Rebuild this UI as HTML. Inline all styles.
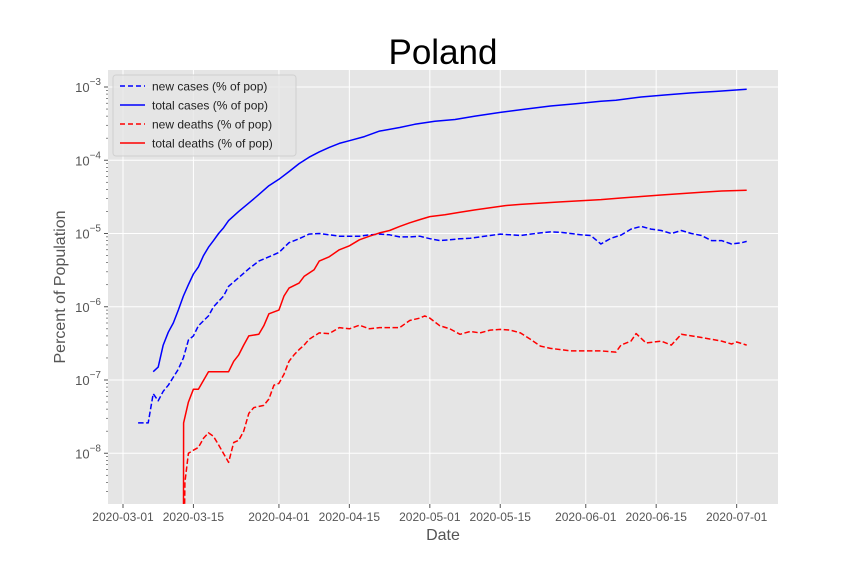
<!DOCTYPE html>
<html><head><meta charset="utf-8"><style>
html,body{margin:0;padding:0;background:#fff;}
svg{display:block;font-family:"Liberation Sans","DejaVu Sans",sans-serif;}
</style></head><body>
<svg id="chart" width="864" height="576" viewBox="0 0 864 576">
<text x="443" y="64" font-size="35" text-anchor="middle" fill="#000">Poland</text>
<rect x="108" y="70" width="670" height="434" fill="#e5e5e5"/>
<g id="grid"></g>
<g id="axes"></g>
<defs><clipPath id="clip"><rect x="108" y="70" width="670" height="434"/></clipPath></defs>
<g id="series" clip-path="url(#clip)"></g>
<text x="443" y="540" font-size="16" text-anchor="middle" fill="#555">Date</text>
<text transform="translate(65,287) rotate(-90)" font-size="16" text-anchor="middle" fill="#555">Percent of Population</text>
<g>
<rect x="113" y="75" width="183" height="81" rx="3" fill="#e5e5e5" stroke="#d0d0d0" fill-opacity="0.8"/>
<g><line x1="120" y1="86" x2="145" y2="86" stroke="#0000ff" stroke-width="1.5" stroke-dasharray="5,3"/><text x="152" y="90.5" font-size="12" fill="#222">new cases (% of pop)</text></g>
<g><line x1="120" y1="105" x2="145" y2="105" stroke="#0000ff" stroke-width="1.5"/><text x="152" y="109.5" font-size="12" fill="#222">total cases (% of pop)</text></g>
<g><line x1="120" y1="124" x2="145" y2="124" stroke="#ff0000" stroke-width="1.5" stroke-dasharray="5,3"/><text x="152" y="128.5" font-size="12" fill="#222">new deaths (% of pop)</text></g>
<g><line x1="120" y1="143" x2="145" y2="143" stroke="#ff0000" stroke-width="1.5"/><text x="152" y="147.5" font-size="12" fill="#222">total deaths (% of pop)</text></g>
</g>
</svg>
<script>
// days since 2020-03-01
const xTickLabels = ["2020-03-01","2020-03-15","2020-04-01","2020-04-15","2020-05-01","2020-05-15","2020-06-01","2020-06-15","2020-07-01"];
const xTickDays = [0,14,31,45,61,75,92,106,122];
const yTickExps = [-3,-4,-5,-6,-7,-8];

const newCasesDays = [3,5,6,7,8,9,11,12,13,14,15,17,18,20,21,23,25,27,29,31,33,35,37,39,41,43,45,47,49,51,53,55,57,59,61,63,65,67,69,71,73,75,77,79,81,83,85,87,89,91,93,95,97,99,101,103,105,107,109,111,113,115,117,119,121,123,124];
const newCasesVals = [2.6e-8,2.6e-8,6.5e-8,5.2e-8,7e-8,8.5e-8,1.4e-7,2e-7,3.5e-7,4e-7,5.5e-7,7.5e-7,1e-6,1.4e-6,1.9e-6,2.5e-6,3.3e-6,4.2e-6,4.8e-6,5.5e-6,7.5e-6,8.5e-6,9.8e-6,1e-5,9.6e-6,9.2e-6,9.2e-6,9.2e-6,9.6e-6,9.8e-6,9.6e-6,9e-6,9e-6,9.2e-6,8.5e-6,8e-6,8.2e-6,8.5e-6,8.6e-6,9e-6,9.4e-6,9.8e-6,9.6e-6,9.4e-6,9.8e-6,1.02e-5,1.05e-5,1.04e-5,1e-5,9.6e-6,9.4e-6,7.2e-6,8.6e-6,9.5e-6,1.15e-5,1.25e-5,1.15e-5,1.1e-5,1e-5,1.1e-5,1e-5,9.4e-6,8e-6,8e-6,7.2e-6,7.5e-6,7.8e-6];

const totalCasesDays = [6,7,8,9,10,11,12,13,14,15,16,17,18,19,20,21,23,25,27,29,31,33,35,37,39,41,43,45,48,51,55,58,62,66,70,75,80,85,90,95,98,103,108,113,118,124];
const totalCasesVals = [1.3e-7,1.5e-7,3e-7,4.5e-7,6e-7,9e-7,1.4e-6,2e-6,2.8e-6,3.5e-6,5e-6,6.5e-6,8e-6,1e-5,1.2e-5,1.5e-5,2e-5,2.6e-5,3.4e-5,4.5e-5,5.5e-5,7e-5,9e-5,1.1e-4,1.3e-4,1.5e-4,1.7e-4,1.85e-4,2.1e-4,2.5e-4,2.8e-4,3.1e-4,3.4e-4,3.6e-4,4e-4,4.5e-4,5e-4,5.5e-4,5.9e-4,6.4e-4,6.6e-4,7.3e-4,7.8e-4,8.3e-4,8.7e-4,9.3e-4];

const newDeathsDays = [12,12.3,13,14,15,16,17,18,19,21,22,23,24,25,26,28,29,30,31,32,33,34,35,36,37,39,41,43,45,47,49,51,53,55,57,59,60,61,63,65,67,69,71,73,75,77,79,81,83,85,87,89,91,93,95,98,99,101,102,104,107,109,111,113,115,117,119,121,122,124];
const newDeathsVals = [1e-10,4e-9,1e-8,1.1e-8,1.2e-8,1.6e-8,1.9e-8,1.7e-8,1.3e-8,7.5e-9,1.4e-8,1.5e-8,2e-8,3.5e-8,4.2e-8,4.5e-8,5.5e-8,8.5e-8,9e-8,1.2e-7,1.8e-7,2.2e-7,2.6e-7,3e-7,3.6e-7,4.4e-7,4.3e-7,5.2e-7,5e-7,5.6e-7,5e-7,5.2e-7,5.2e-7,5.2e-7,6.5e-7,7e-7,7.5e-7,7e-7,5.5e-7,5e-7,4.2e-7,4.6e-7,4.4e-7,4.8e-7,4.9e-7,4.8e-7,4.4e-7,3.6e-7,2.9e-7,2.7e-7,2.6e-7,2.5e-7,2.5e-7,2.5e-7,2.5e-7,2.4e-7,3e-7,3.4e-7,4.3e-7,3.2e-7,3.4e-7,3e-7,4.2e-7,4e-7,3.8e-7,3.6e-7,3.4e-7,3.1e-7,3.3e-7,3e-7];

const totalDeathsDays = [12,12.05,13,14,15,17,21,22,23,24,25,27,28,29,31,32,33,35,36,38,39,41,43,45,47,49,51,53,55,57,59,61,64,67,70,73,76,79,83,87,91,95,99,103,107,111,115,119,124];
const totalDeathsVals = [1e-10,2.6e-8,5e-8,7.5e-8,7.5e-8,1.3e-7,1.3e-7,1.8e-7,2.2e-7,3e-7,4e-7,4.2e-7,5.5e-7,8e-7,9e-7,1.4e-6,1.8e-6,2.1e-6,2.6e-6,3.2e-6,4.2e-6,4.8e-6,6e-6,6.8e-6,8.2e-6,9.2e-6,1.02e-5,1.1e-5,1.25e-5,1.4e-5,1.55e-5,1.7e-5,1.8e-5,1.95e-5,2.1e-5,2.25e-5,2.4e-5,2.5e-5,2.6e-5,2.7e-5,2.8e-5,2.9e-5,3.05e-5,3.2e-5,3.35e-5,3.5e-5,3.65e-5,3.8e-5,3.9e-5];

const NS = "http://www.w3.org/2000/svg";
const X0 = 123, PXDAY = 5.03;
function xScale(d){ return X0 + d*PXDAY; }
function yScale(v){ return 87 + (-3 - Math.log10(v))*73.25; }
function mk(tag, attrs, parent){ const e=document.createElementNS(NS,tag); for(const k in attrs) e.setAttribute(k,attrs[k]); parent.appendChild(e); return e; }

const grid=document.getElementById('grid'), axes=document.getElementById('axes'), series=document.getElementById('series');

xTickDays.forEach((d,i)=>{
  const x=xScale(d);
  const gl=mk('line',{x1:x,x2:x,y1:70,y2:504,stroke:'#fff','stroke-width':1},grid);
  
  
  mk('line',{x1:x,x2:x,y1:504,y2:508,stroke:'#555'},axes);
  const t=mk('text',{x:x,y:521,'font-size':12,'text-anchor':'middle',fill:'#555'},axes);
  t.textContent=xTickLabels[i];
  
  
});
yTickExps.forEach(e=>{
  const y=yScale(Math.pow(10,e));
  const gl=mk('line',{x1:108,x2:778,y1:y,y2:y,stroke:'#fff','stroke-width':1},grid);
  
  
  mk('line',{x1:104,x2:108,y1:y,y2:y,stroke:'#555'},axes);
  const t=mk('text',{x:101,y:y+5,'font-size':13,'text-anchor':'end',fill:'#555'},axes);
  
  
  t.innerHTML='10<tspan dy="-7" font-size="10">\u2212'+(-e)+'</tspan>';
  for(let m=2;m<=9;m++){
    const ym=yScale(m*Math.pow(10,e-1));
    if(ym<504&&ym>70) mk('line',{x1:106,x2:108,y1:ym,y2:ym,stroke:'#555','stroke-width':0.7},axes);
  }
});
for(let m=2;m<=9;m++){const ym=yScale(m*1e-3); if(ym>70) mk('line',{x1:106,x2:108,y1:ym,y2:ym,stroke:'#555','stroke-width':0.7},axes);}

function drawLine(days, vals, color, dashed, name){
  const pts=days.map((d,i)=>xScale(d).toFixed(1)+','+yScale(vals[i]).toFixed(1)).join(' ');
  const p=mk('polyline',{points:pts,fill:'none',stroke:color,'stroke-width':1.5,'stroke-linejoin':'round'},series);
  if(dashed) p.setAttribute('stroke-dasharray','5.5,2.5');
  
  
}
drawLine(newCasesDays,newCasesVals,'#0000ff',true,'new-cases-line');
drawLine(totalCasesDays,totalCasesVals,'#0000ff',false,'total-cases-line');
drawLine(newDeathsDays,newDeathsVals,'#ff0000',true,'new-deaths-line');
drawLine(totalDeathsDays,totalDeathsVals,'#ff0000',false,'total-deaths-line');
</script>
</body></html>
